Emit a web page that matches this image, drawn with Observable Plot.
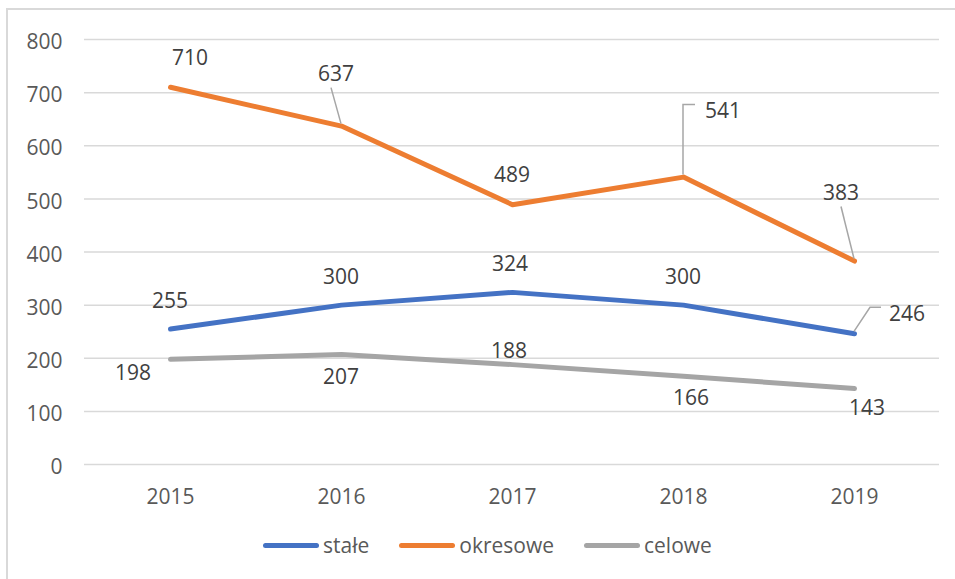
<!DOCTYPE html>
<html>
<head>
<meta charset="utf-8">
<script src="https://cdn.jsdelivr.net/npm/d3@7"></script>
<script src="https://cdn.jsdelivr.net/npm/@observablehq/plot@0.6"></script>
<style>
  html, body { margin: 0; padding: 0; background: #fff; }
  body { width: 955px; height: 579px; position: relative; overflow: hidden; font-family: "Open Sans", sans-serif; }
  #frame { position: absolute; left: 6px; top: 8px; width: 1000px; height: 700px;
           border-left: 2px solid #d9d9d9; border-top: 2px solid #d9d9d9; }
  #chart { position: absolute; left: 0; top: 0; }
  #legend { position: absolute; left: 263px; top: 531px; display: flex; align-items: center;
            font-size: 21px; color: #595959; gap: 30px; }
  #legend .item { display: flex; align-items: center; gap: 4px; }
  #legend .sw { width: 56px; height: 5px; border-radius: 3px; }
</style>
</head>
<body>
<div id="frame"></div>
<div id="chart"></div>
<div id="legend"></div>
<script>
// ---- data ----
const years = ["2015", "2016", "2017", "2018", "2019"];
const seriesNames = ["stałe", "okresowe", "celowe"];
const stale = [255, 300, 324, 300, 246];
const okresowe = [710, 637, 489, 541, 383];
const celowe = [198, 207, 188, 166, 143];
const yTicks = [0, 100, 200, 300, 400, 500, 600, 700, 800];

// ---- styles ----
const seriesColors = ["#4472C4", "#ED7D31", "#A5A5A5"];
// label placement (pixel nudges from each point), per series, per year
const labelNudge = {
  "stałe":    [[0, -28], [0, -28], [-2, -28], [0, -28], [53, -20]],
  "okresowe": [[20, -29], [-5, -52], [0, -30], [40, -66], [-13, -68]],
  "celowe":   [[-37, 14], [0, 22], [-3, -14], [8, 22], [13, 19]]
};
// leader lines (pixel offsets from the point)
const leaders = [
  {series: "okresowe", year: "2016", pts: [[-10, -38], [0, -2]]},
  {series: "okresowe", year: "2018", pts: [[0, -2], [0, -72], [12, -72]]},
  {series: "okresowe", year: "2019", pts: [[-13, -54], [0, -2]]},
  {series: "stałe", year: "2019", pts: [[0, -2], [16, -26], [27, -26]]}
];

const valuesBySeries = {"stałe": stale, "okresowe": okresowe, "celowe": celowe};
const rows = seriesNames.flatMap(s => years.map((y, i) => ({series: s, year: y, value: valuesBySeries[s][i], i})));

function labelsMark(index, scales) {
  const g = d3.create("svg:g");
  for (const L of leaders) {
    const i = years.indexOf(L.year);
    const px = scales.x(L.year), py = scales.y(valuesBySeries[L.series][i]);
    g.append("polyline")
      .attr("points", L.pts.map(([dx, dy]) => `${px + dx},${py + dy}`).join(" "))
      .attr("fill", "none").attr("stroke", "#a6a6a6").attr("stroke-width", 1.5);
  }
  for (const r of rows) {
    const [dx, dy] = labelNudge[r.series][r.i];
    g.append("text")
      .attr("x", scales.x(r.year) + dx)
      .attr("y", scales.y(r.value) + dy)
      .attr("text-anchor", "middle")
      .attr("dy", "0.36em")
      .attr("fill", "#404040")
      .attr("font-size", 21)
      .text(String(r.value));
  }
  return g.node();
}

const plot = Plot.plot({
  width: 955,
  height: 520,
  marginLeft: 84,
  marginRight: 16,
  marginTop: 39,
  marginBottom: 56,
  style: {fontFamily: "Open Sans, sans-serif", fontSize: "21px", color: "#595959", background: "transparent"},
  x: {type: "point", domain: years, padding: 0.5, label: null},
  y: {domain: [0, 800], label: null},
  color: {domain: seriesNames, range: seriesColors},
  marks: [
    Plot.gridY(yTicks, {stroke: "#d9d9d9", strokeOpacity: 1, strokeWidth: 1.5}),
    Plot.axisY(yTicks, {tickSize: 0, tickPadding: 22, fontSize: 21, label: null, dy: 3}),
    Plot.axisX({tickSize: 0, tickPadding: 25, fontSize: 21, label: null}),
    Plot.line(rows, {x: "year", y: "value", z: "series", stroke: "series", strokeWidth: 5,
                     strokeLinecap: "round", strokeLinejoin: "round"}),
    labelsMark
  ]
});
document.getElementById("chart").appendChild(plot);

const legend = d3.select("#legend");
seriesNames.forEach((s, i) => {
  const item = legend.append("div").attr("class", "item");
  item.append("div").attr("class", "sw").style("background", seriesColors[i]);
  item.append("span").text(s);
});
</script>
</body>
</html>
